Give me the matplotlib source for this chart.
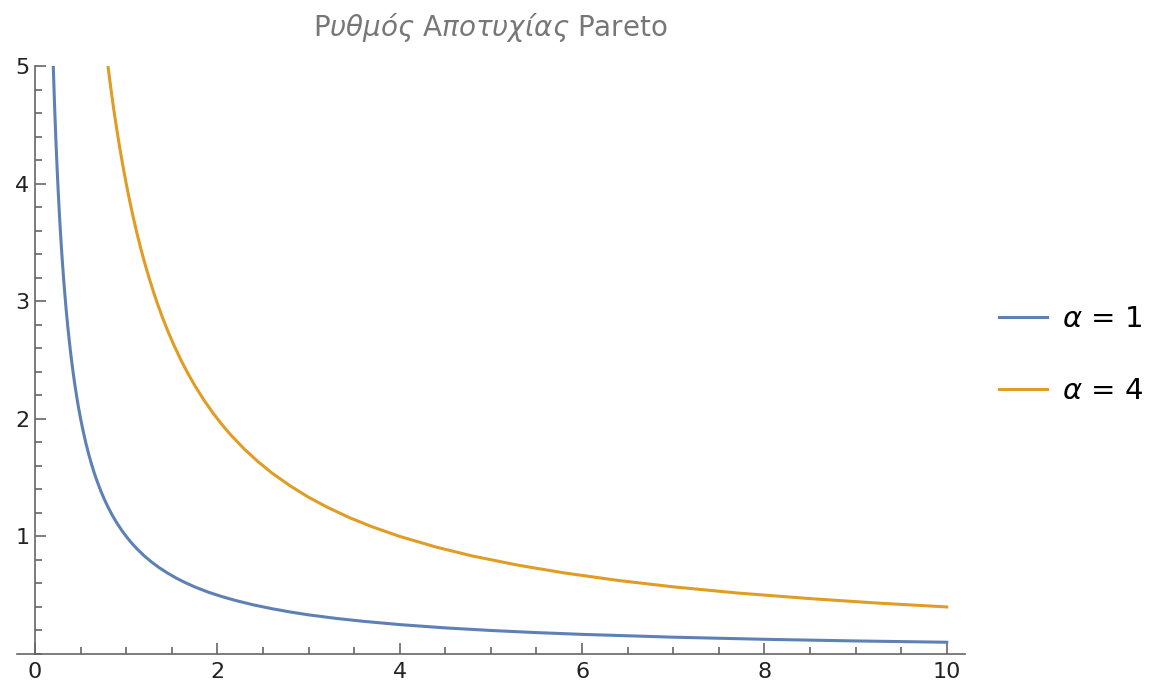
import numpy as np
import matplotlib
matplotlib.use("Agg")
import matplotlib.pyplot as plt
from matplotlib.ticker import MultipleLocator

# Values (hazard rate curves).
x_a1 = [0.2, 0.205, 0.21, 0.215, 0.22, 0.23, 0.24, 0.25, 0.26, 0.27, 0.28, 0.29,
        0.30, 0.32, 0.34, 0.36, 0.38, 0.40, 0.42, 0.44, 0.46, 0.48, 0.50, 0.53,
        0.56, 0.59, 0.62, 0.65, 0.68, 0.72, 0.76, 0.80, 0.85, 0.90, 0.95, 1.0,
        1.06, 1.12, 1.2, 1.28, 1.36, 1.45, 1.55, 1.65, 1.75, 1.9, 2.05, 2.2,
        2.4, 2.6, 2.8, 3.0, 3.3, 3.6, 4.0, 4.5, 5.0, 5.5, 6.0, 7.0, 8.0, 9.0, 10.0]
y_a1 = [5.0, 4.878, 4.762, 4.651, 4.545, 4.348, 4.167, 4.0, 3.846, 3.704, 3.571, 3.448,
        3.333, 3.125, 2.941, 2.778, 2.632, 2.5, 2.381, 2.273, 2.174, 2.083, 2.0, 1.887,
        1.786, 1.695, 1.613, 1.538, 1.471, 1.389, 1.316, 1.25, 1.176, 1.111, 1.053, 1.0,
        0.943, 0.893, 0.833, 0.781, 0.735, 0.690, 0.645, 0.606, 0.571, 0.526, 0.488, 0.455,
        0.417, 0.385, 0.357, 0.333, 0.303, 0.278, 0.25, 0.222, 0.2, 0.182, 0.167,
        0.143, 0.125, 0.111, 0.1]

x_a4 = [0.8, 0.82, 0.84, 0.86, 0.88, 0.9, 0.93, 0.96, 1.0, 1.04, 1.08, 1.12,
        1.16, 1.2, 1.25, 1.3, 1.35, 1.4, 1.46, 1.52, 1.6, 1.68, 1.76, 1.85, 1.95,
        2.05, 2.15, 2.3, 2.45, 2.6, 2.8, 3.0, 3.2, 3.45, 3.7, 4.0, 4.4, 4.8,
        5.3, 5.8, 6.4, 7.0, 7.7, 8.5, 9.2, 10.0]
y_a4 = [5.0, 4.878, 4.762, 4.651, 4.545, 4.444, 4.301, 4.167, 4.0, 3.846, 3.704, 3.571,
        3.448, 3.333, 3.2, 3.077, 2.963, 2.857, 2.740, 2.632, 2.5, 2.381, 2.273, 2.162, 2.051,
        1.951, 1.860, 1.739, 1.633, 1.538, 1.429, 1.333, 1.25, 1.159, 1.081, 1.0, 0.909, 0.833,
        0.755, 0.690, 0.625, 0.571, 0.519, 0.471, 0.435, 0.4]

labels = [r'$\alpha$ = 1', r'$\alpha$ = 4']
colors = ['#5E81B5', '#E19C24']
title = 'Ρ$\\mathit{υθμός}$ Α$\\mathit{ποτυχίας}$ Pareto'

W, H = 1161, 690
fig = plt.figure(figsize=(W / 100, H / 100), dpi=100)
ax = fig.add_axes([16.8 / W, 36 / H, (965 - 16.8) / W, (654 - 66) / H])

ax.plot(x_a1, y_a1, color=colors[0], lw=2.2, label=labels[0])
ax.plot(x_a4, y_a4, color=colors[1], lw=2.2, label=labels[1])

ax.set_xlim(-0.2, 10.2)
ax.set_ylim(0, 5)

for s in ['top', 'right']:
    ax.spines[s].set_visible(False)
ax.spines['left'].set_position(('data', 0))
ax.spines['bottom'].set_position(('data', 0))
for s in ['left', 'bottom']:
    ax.spines[s].set_color('#666666')
    ax.spines[s].set_linewidth(1.2)

ax.xaxis.set_major_locator(MultipleLocator(2))
ax.xaxis.set_minor_locator(MultipleLocator(0.5))
ax.yaxis.set_major_locator(MultipleLocator(1))
ax.yaxis.set_minor_locator(MultipleLocator(0.2))
ax.set_yticks([1, 2, 3, 4, 5])
ax.tick_params(which='both', direction='in', color='#666666', width=1.2,
               labelsize=16, labelcolor='#222222')
ax.tick_params(which='major', length=8)
ax.tick_params(which='minor', length=5)
ax.tick_params(axis='x', pad=6)
ax.tick_params(axis='y', pad=4)

fig.text(490 / W, 1 - 28 / H, title, ha='center', va='center',
         fontsize=20, color='#777777')

fig.legend(loc='center left', bbox_to_anchor=(973 / W, 1 - 355 / H),
           frameon=False, fontsize=21, handlelength=1.65, handletextpad=0.5,
           labelspacing=1.5)

fig.savefig('out.png', dpi=100)
